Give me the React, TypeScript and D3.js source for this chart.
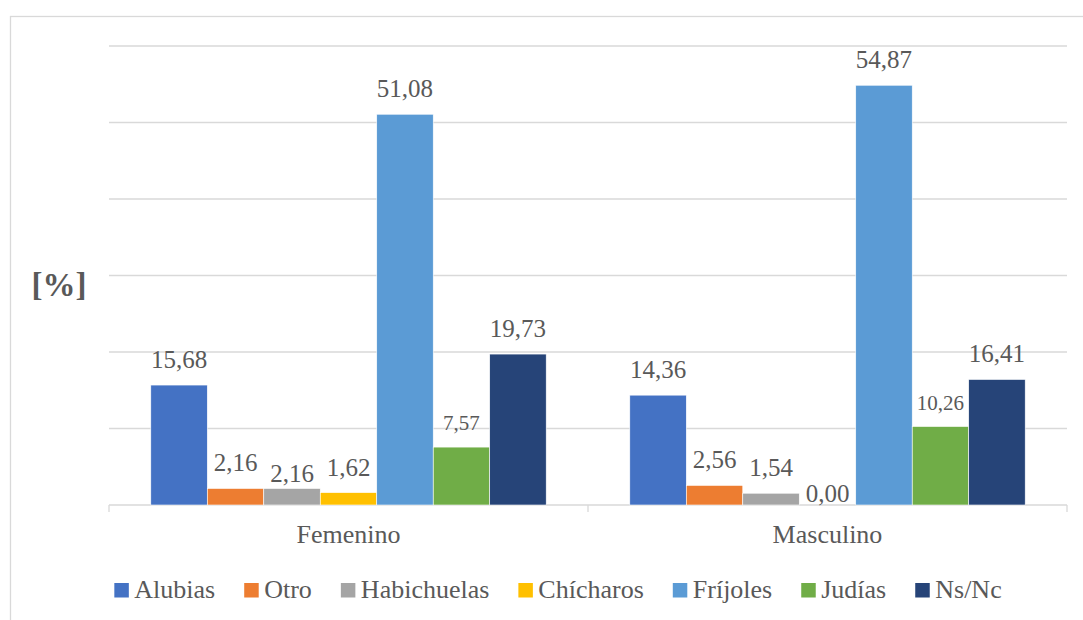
import React from "react";
import * as d3 from "d3";

const groups = ["Femenino", "Masculino"];
const series = ["Alubias", "Otro", "Habichuelas", "Chícharos", "Fríjoles", "Judías", "Ns/Nc"];
const colors = ["#4472C4", "#ED7D31", "#A5A5A5", "#FFC000", "#5B9BD5", "#70AD47", "#264478"];
const femenino = [15.68, 2.16, 2.16, 1.62, 51.08, 7.57, 19.73];
const masculino = [14.36, 2.56, 1.54, 0.0, 54.87, 10.26, 16.41];
const yTicks = [0, 10, 20, 30, 40, 50, 60];
const yLabel = "[%]";

const W = 1083;
const H = 620;
const FONT = "Liberation Serif";
const TEXT = "#595959";
const GRID = "#d9d9d9";

function measure(text: string, size: number): number {
  const c = document.createElement("canvas").getContext("2d");
  if (!c) return text.length * size * 0.45;
  c.font = `${size}px "${FONT}"`;
  return c.measureText(text).width;
}

export default function App() {
  const x0 = d3.scaleBand<string>().domain(groups).range([109, 1067]).padding(0);
  const x1 = d3.scaleBand<string>().domain(series).range([0, x0.bandwidth()])
    .paddingInner(0).paddingOuter(0.74);
  const y = d3.scaleLinear().domain([0, 60]).range([505, 46]);
  const dataByGroup = [femenino, masculino];
  const fmt = (v: number) => d3.format(".2f")(v).replace(".", ",");
  const gapFor = (gi: number, si: number) => {
    if (gi === 0 && si === 2) return 6;
    if (gi === 1 && si === 3) return 3;
    return 17;
  };

  const legendSize = 26;
  const widths = series.map((s) => measure(s, legendSize));
  const offsets: number[] = [];
  let acc = 0;
  widths.forEach((w) => {
    offsets.push(acc);
    acc += 20 + w + 29;
  });
  const legendW = acc - 29;
  const legendX = 558 - legendW / 2;
  const boundaries = [...groups.map((g) => x0(g) as number), 1067];

  return (
    <svg width={W} height={H} style={{ position: "absolute", left: 0, top: 0, background: "#fff" }}>
      <rect x={10.5} y={16.5} width={1200} height={700} fill="#fff" stroke={GRID} strokeWidth={1.3} />
      {yTicks.filter((t) => t > 0).map((t) => (
        <line key={t} x1={109} x2={1067} y1={y(t)} y2={y(t)} stroke={GRID} strokeWidth={1.3} />
      ))}
      <line x1={109} x2={1067} y1={y(0)} y2={y(0)} stroke={GRID} strokeWidth={1.3} />
      {boundaries.map((b) => (
        <line key={b} x1={b} x2={b} y1={y(0)} y2={y(0) + 7} stroke={GRID} strokeWidth={1.3} />
      ))}
      {groups.map((g, gi) => (
        <g key={g} transform={`translate(${x0(g)},0)`}>
          {dataByGroup[gi].map((v, i) => (
            <rect
              key={i}
              x={x1(series[i])}
              width={x1.bandwidth()}
              y={y(v)}
              height={y(0) - y(v)}
              fill={colors[i]}
              stroke="#fff"
              strokeWidth={0.6}
            />
          ))}
          {dataByGroup[gi].map((v, i) => (
            <text
              key={"t" + i}
              x={(x1(series[i]) as number) + x1.bandwidth() / 2}
              y={y(v) - gapFor(gi, i)}
              textAnchor="middle"
              fill={TEXT}
              style={{ fontFamily: FONT, fontSize: i === 5 ? "21px" : "25px" }}
            >
              {fmt(v)}
            </text>
          ))}
          <text
            x={x0.bandwidth() / 2}
            y={543}
            textAnchor="middle"
            fill={TEXT}
            style={{ fontFamily: FONT, fontSize: "26px" }}
          >
            {g}
          </text>
        </g>
      ))}
      <text
        x={59}
        y={296}
        textAnchor="middle"
        fill={TEXT}
        style={{ fontFamily: FONT, fontSize: "33px", fontWeight: "bold" }}
      >
        {yLabel}
      </text>
      <g transform={`translate(${legendX},0)`}>
        {series.map((s, i) => (
          <g key={s} transform={`translate(${offsets[i]},0)`}>
            <rect x={0} y={583} width={14.5} height={14.5} fill={colors[i]} />
            <text x={20} y={598} fill={TEXT} style={{ fontFamily: FONT, fontSize: `${legendSize}px` }}>
              {s}
            </text>
          </g>
        ))}
      </g>
    </svg>
  );
}
